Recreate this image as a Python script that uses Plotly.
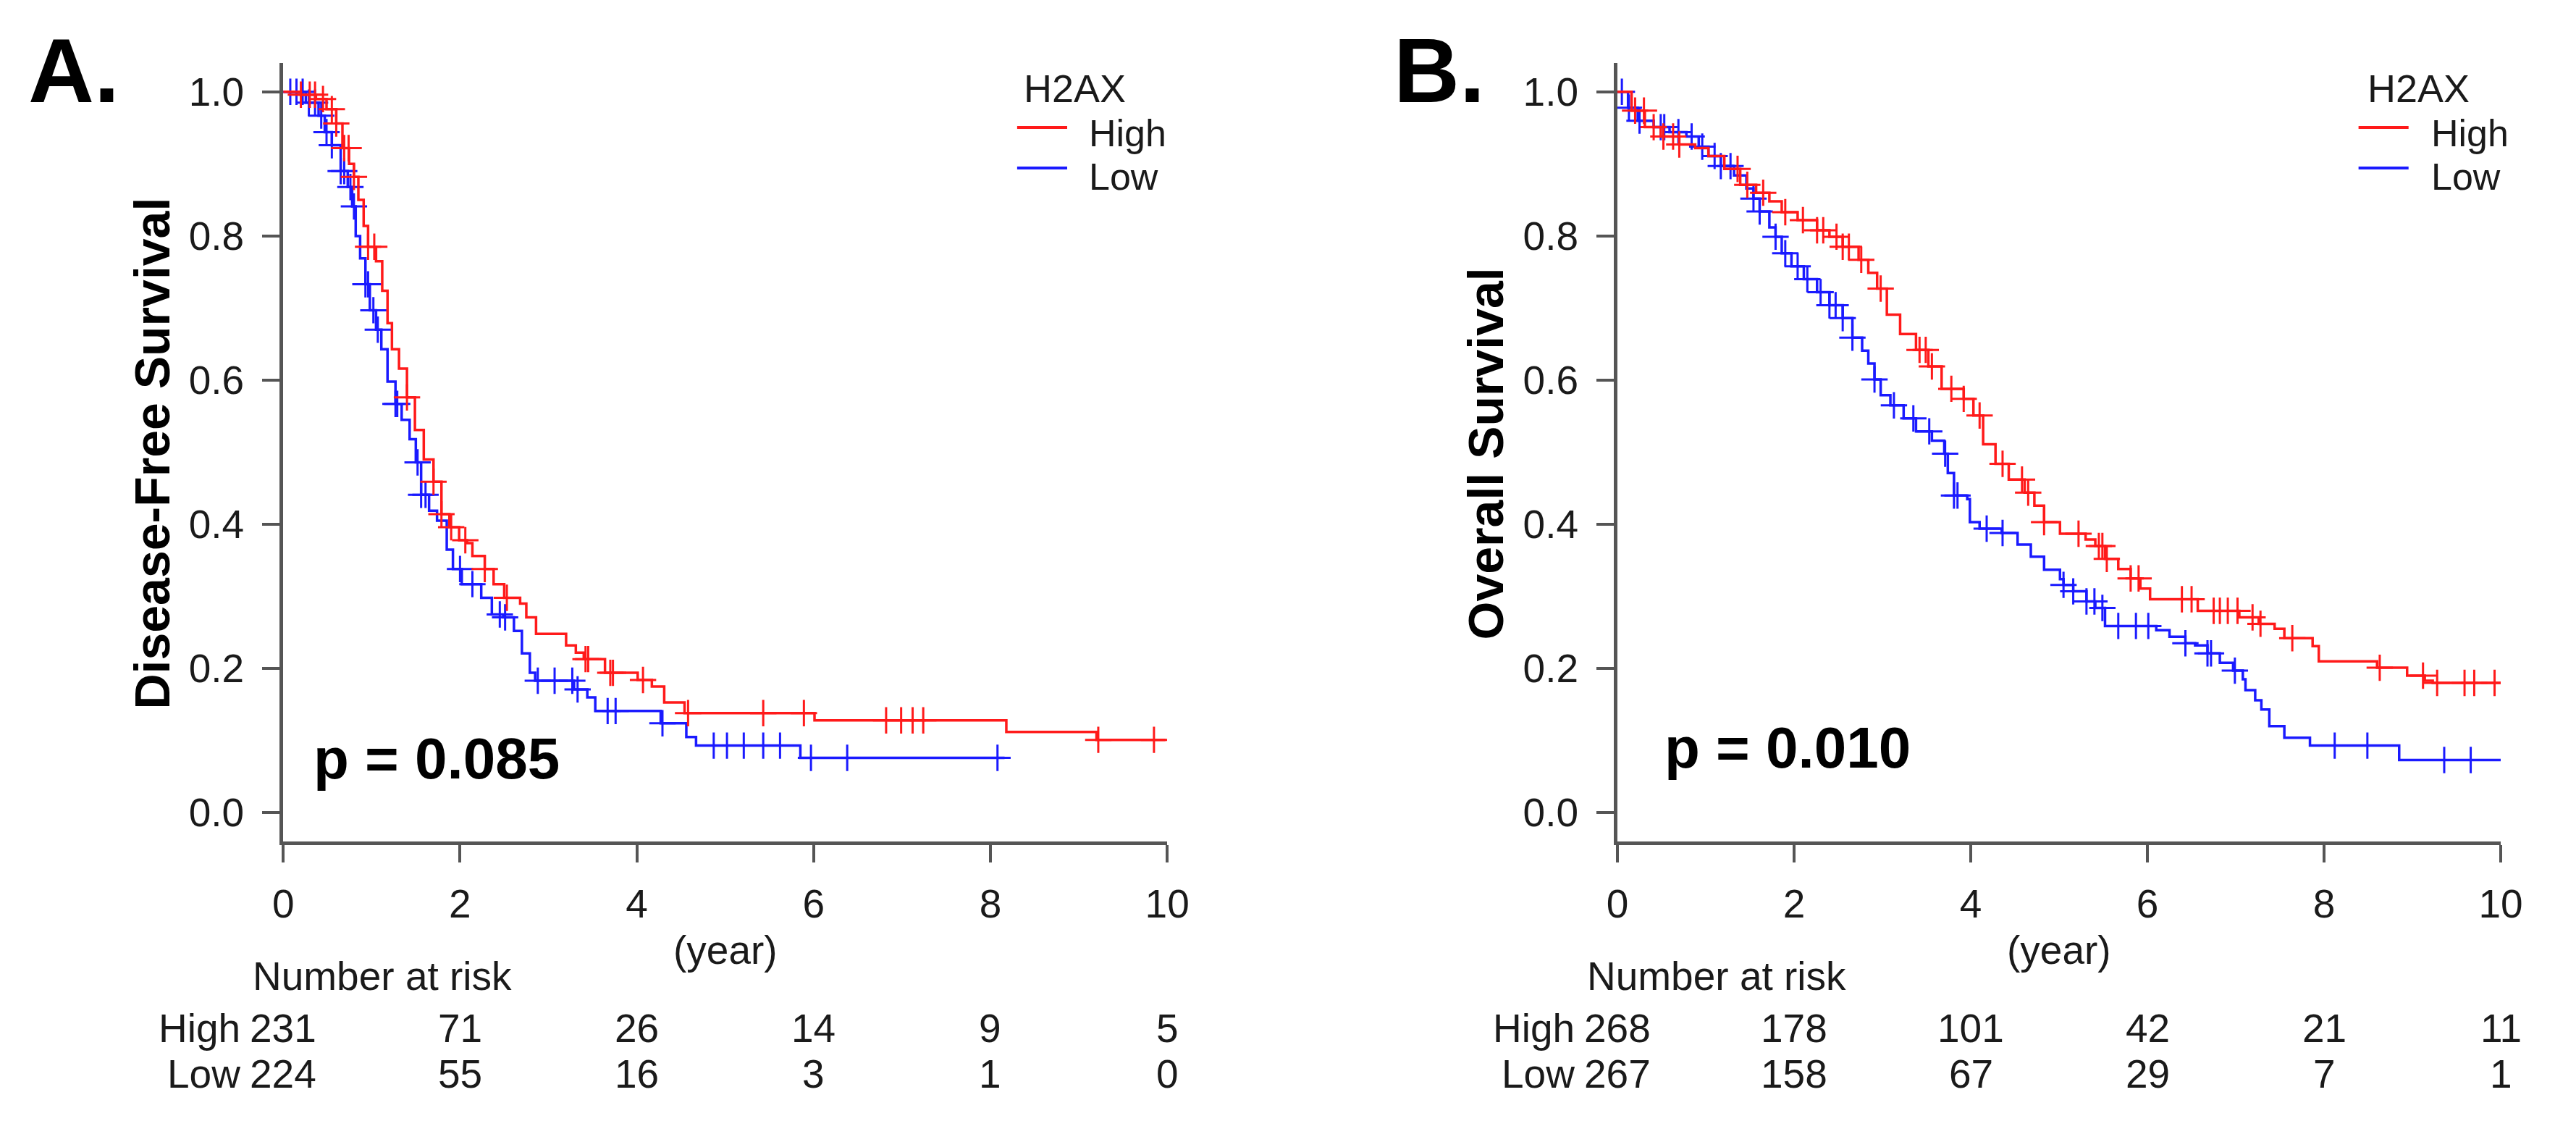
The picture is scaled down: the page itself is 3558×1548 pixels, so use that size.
import numpy as np
import plotly.graph_objects as go

# ---- Panel A: Disease-free survival (Kaplan-Meier) ----
a_high_t = [0, 0.20, 0.37, 0.49, 0.60, 0.67, 0.745, 0.80, 0.85, 0.91, 0.96, 1.05, 1.12, 1.18,
            1.23, 1.31, 1.40, 1.49, 1.59, 1.70, 1.79, 1.88, 1.99, 2.08, 2.14, 2.28, 2.38, 2.50,
            2.68, 2.75, 2.86, 3.20, 3.31, 3.40, 3.64, 4.01, 4.17, 4.31, 4.54, 6.01, 8.18, 9.20, 9.98]
a_high_s = [1.0, 0.996, 0.99, 0.976, 0.956, 0.922, 0.90, 0.882, 0.85, 0.814, 0.785, 0.765, 0.724, 0.679,
            0.643, 0.616, 0.576, 0.531, 0.49, 0.459, 0.414, 0.396, 0.378, 0.374, 0.356, 0.338, 0.317, 0.298,
            0.290, 0.271, 0.248, 0.232, 0.222, 0.213, 0.194, 0.184, 0.175, 0.153, 0.138, 0.128, 0.112, 0.101, 0.101]
a_high_cens = [0.2, 0.3, 0.36, 0.45, 0.55, 0.6, 0.69, 0.74, 0.8, 0.96, 1.03, 1.40, 1.70, 1.79, 1.90,
               2.06, 2.28, 2.53, 3.42, 3.45, 3.70, 3.73, 4.07, 4.58, 5.43, 5.89, 6.82, 6.99, 7.12,
               7.24, 9.22, 9.85]

a_low_t = [0, 0.256, 0.40, 0.47, 0.55, 0.65, 0.73, 0.78, 0.82, 0.87, 0.93, 0.98, 1.05, 1.11, 1.18,
           1.27, 1.34, 1.43, 1.50, 1.56, 1.65, 1.74, 1.85, 1.92, 2.02, 2.24, 2.36, 2.49, 2.61, 2.70,
           2.79, 2.85, 3.29, 3.44, 3.53, 4.27, 4.56, 4.67, 5.85, 8.16]
a_low_s = [1.0, 0.985, 0.967, 0.944, 0.926, 0.890, 0.868, 0.841, 0.800, 0.769, 0.733, 0.697, 0.670,
           0.643, 0.598, 0.567, 0.545, 0.518, 0.486, 0.441, 0.419, 0.405, 0.365, 0.338, 0.317, 0.298,
           0.275, 0.271, 0.252, 0.221, 0.194, 0.183, 0.171, 0.160, 0.141, 0.124, 0.105, 0.093, 0.076, 0.076]
a_low_cens = [0.08, 0.15, 0.22, 0.29, 0.36, 0.43, 0.49, 0.55, 0.65, 0.69, 0.76, 0.8, 0.93, 0.96,
              1.02, 1.07, 1.27, 1.29, 1.52, 1.56, 1.61, 2.0, 2.14, 2.45, 2.51, 2.88, 3.07, 3.27,
              3.33, 3.67, 3.76, 4.29, 4.87, 5.02, 5.21, 5.43, 5.62, 5.97, 6.38, 8.08]

# ---- Panel B: Overall survival ----
b_high_t = [0, 0.16, 0.31, 0.49, 0.70, 0.88, 1.03, 1.21, 1.39, 1.57, 1.72, 1.86, 2.04, 2.26, 2.40,
            2.55, 2.73, 2.84, 2.94, 3.05, 3.20, 3.38, 3.52, 3.67, 3.92, 4.03, 4.14, 4.28, 4.43, 4.61,
            4.72, 4.83, 5.01, 5.30, 5.41, 5.52, 5.67, 5.81, 5.92, 6.03, 6.57, 7.04, 7.26, 7.44, 7.55,
            7.87, 7.94, 8.60, 8.94, 9.14, 9.23, 10.0]
b_high_s = [1.0, 0.974, 0.951, 0.938, 0.927, 0.922, 0.911, 0.893, 0.871, 0.860, 0.848, 0.833, 0.822,
            0.808, 0.799, 0.785, 0.767, 0.749, 0.727, 0.691, 0.664, 0.642, 0.619, 0.588, 0.574, 0.551,
            0.511, 0.484, 0.462, 0.444, 0.426, 0.403, 0.387, 0.379, 0.370, 0.352, 0.338, 0.325, 0.311,
            0.296, 0.280, 0.271, 0.262, 0.255, 0.242, 0.231, 0.210, 0.201, 0.190, 0.183, 0.180, 0.180]
b_high_cens = [0.2, 0.3, 0.41, 0.52, 0.63, 0.7, 1.36, 1.47, 1.65, 1.9, 2.1, 2.26, 2.33, 2.48, 2.55,
               2.62, 2.76, 2.98, 3.42, 3.49, 3.56, 3.78, 3.92, 4.10, 4.36, 4.58, 4.65, 4.83, 5.22,
               5.45, 5.49, 5.54, 5.81, 5.90, 6.39, 6.50, 6.75, 6.82, 6.91, 7.02, 7.19, 7.28, 7.64,
               8.63, 9.12, 9.28, 9.59, 9.70, 9.93]

b_low_t = [0, 0.12, 0.23, 0.41, 0.59, 0.78, 0.92, 1.03, 1.17, 1.32, 1.46, 1.54, 1.61, 1.72, 1.79,
           1.86, 1.97, 2.11, 2.26, 2.40, 2.55, 2.66, 2.77, 2.84, 2.91, 2.98, 3.09, 3.24, 3.38, 3.56,
           3.70, 3.74, 3.81, 3.96, 3.99, 4.10, 4.35, 4.53, 4.68, 4.83, 5.01, 5.05, 5.16, 5.31, 5.41,
           5.52, 6.10, 6.25, 6.43, 6.54, 6.68, 6.82, 6.97, 7.08, 7.11, 7.22, 7.29, 7.38, 7.55, 7.84,
           8.85, 10.0]
b_low_s = [1.0, 0.978, 0.960, 0.951, 0.944, 0.938, 0.924, 0.911, 0.897, 0.884, 0.866, 0.852, 0.834,
           0.812, 0.799, 0.776, 0.758, 0.740, 0.722, 0.704, 0.686, 0.659, 0.641, 0.623, 0.601, 0.579,
           0.565, 0.547, 0.529, 0.516, 0.498, 0.471, 0.440, 0.435, 0.403, 0.394, 0.388, 0.372, 0.355,
           0.337, 0.324, 0.316, 0.307, 0.293, 0.284, 0.259, 0.253, 0.244, 0.235, 0.232, 0.221, 0.208,
           0.197, 0.185, 0.170, 0.156, 0.143, 0.120, 0.104, 0.093, 0.073, 0.073]
b_low_cens = [0.05, 0.13, 0.25, 0.49, 0.53, 0.69, 0.84, 0.96, 1.1, 1.17, 1.28, 1.54, 1.61, 1.79,
              1.90, 2.04, 2.15, 2.3, 2.40, 2.47, 2.55, 2.66, 2.91, 3.13, 3.35, 3.53, 3.71, 3.81,
              3.85, 4.18, 4.36, 5.05, 5.16, 5.31, 5.40, 5.49, 5.67, 5.87, 6.01, 6.43, 6.68, 6.72,
              6.99, 8.12, 8.49, 9.36, 9.66]

# number at risk tables
risk_times = [0, 2, 4, 6, 8, 10]
a_risk_high = [231, 71, 26, 14, 9, 5]
a_risk_low = [224, 55, 16, 3, 1, 0]
b_risk_high = [268, 178, 101, 42, 21, 11]
b_risk_low = [267, 158, 67, 29, 7, 1]

y_titles = ["Disease-Free Survival", "Overall Survival"]
p_values = ["p = 0.085", "p = 0.010"]
panel_tags = ["A.", "B."]

RED = "#ff1a1a"
BLUE = "#1a1aff"
FONT = "Liberation Sans, Arial, sans-serif"
TXT = "#1a1a1a"
W, H = 3558, 1548


def surv_at(t, s, c):
    idx = np.searchsorted(np.array(t), np.array(c), side="right") - 1
    return np.array(s)[idx]


fig = go.Figure()

panels = [
    ("x", "y", a_high_t, a_high_s, a_high_cens, a_low_t, a_low_s, a_low_cens),
    ("x2", "y2", b_high_t, b_high_s, b_high_cens, b_low_t, b_low_s, b_low_cens),
]
for xa, ya, ht, hs, hc, lt, ls, lc in panels:
    for t, s, c, col in [(lt, ls, lc, BLUE), (ht, hs, hc, RED)]:
        fig.add_trace(go.Scatter(x=t, y=s, mode="lines", line=dict(color=col, width=3.5, shape="hv"),
                                 xaxis=xa, yaxis=ya, showlegend=False, hoverinfo="skip"))
        fig.add_trace(go.Scatter(x=c, y=surv_at(t, s, c), mode="markers",
                                 marker=dict(symbol="cross-thin", size=26, line=dict(color=col, width=3)),
                                 xaxis=xa, yaxis=ya, showlegend=False, hoverinfo="skip"))

# pixel geometry of the two plot areas
x_pix = [(373, 1610), (2240, 3476)]
y_bot, y_top = 1154, 79
ydom = [(H - y_bot) / H, (H - y_top) / H]

axis_common = dict(showline=True, linecolor="#555555", linewidth=5, ticks="outside", ticklen=24,
                   tickwidth=4, tickcolor="#555555", showgrid=False, zeroline=False,
                   tickfont=dict(family=FONT, size=55, color=TXT))

layout = dict(width=W, height=H, margin=dict(l=0, r=0, t=0, b=0), plot_bgcolor="white",
              paper_bgcolor="white", showlegend=False)
for i, (x0, x1) in enumerate(x_pix):
    sfx = "" if i == 0 else str(i + 1)
    layout["xaxis" + sfx] = dict(domain=[x0 / W, x1 / W], range=[0, 10], tickvals=risk_times,
                                 anchor="y" + sfx, ticklabelstandoff=10, **axis_common)
    layout["yaxis" + sfx] = dict(domain=ydom, range=[-0.04, 1.04], tickvals=[0, 0.2, 0.4, 0.6, 0.8, 1.0],
                                 ticktext=["0.0", "0.2", "0.4", "0.6", "0.8", "1.0"],
                                 anchor="x" + sfx, ticklabelstandoff=14, **axis_common)
fig.update_layout(**layout)


def px_x(i, yr):
    # paper x of a time value on panel i (for text placed left of the axis)
    x0, x1 = x_pix[i]
    return (x0 + (x1 - x0) * yr / 10) / W


ann = []
shapes = []
risk_rows = [(a_risk_high, a_risk_low), (b_risk_high, b_risk_low)]
legend_x = [(1400, 1407, 1498), (3277, 3287, 3377)]
p_pos = [(0.33, 0.075), (0.52, 0.09)]
tag_x = [14, 1925]
for i, (x0, x1) in enumerate(x_pix):
    xr = "x" if i == 0 else "x2"
    # panel tag
    ann.append(dict(text="<b>%s</b>" % panel_tags[i], x=tag_x[i] / W, y=(H - 89) / H, xref="paper", yref="paper",
                    xanchor="left", yanchor="middle", showarrow=False,
                    font=dict(family=FONT, size=126, color="black")))
    # y title
    ann.append(dict(text="<b>%s</b>" % y_titles[i], x=(x0 - 184) / W, y=(H - 618) / H, xref="paper",
                    yref="paper", textangle=-90, xanchor="center", yanchor="middle", showarrow=False,
                    font=dict(family=FONT, size=68, color="black")))
    # p value
    ann.append(dict(text="<b>%s</b>" % p_values[i], x=p_pos[i][0], y=p_pos[i][1], xref=xr,
                    yref="y" if i == 0 else "y2", xanchor="left", yanchor="middle", showarrow=False,
                    font=dict(family=FONT, size=80, color="black")))
    # x title
    ann.append(dict(text="(year)", x=5, y=(H - 1304) / H, xref=xr, yref="paper", xanchor="center",
                    yanchor="middle", showarrow=False, font=dict(family=FONT, size=55, color=TXT)))
    # number at risk
    ann.append(dict(text="Number at risk", x=px_x(i, -0.36), y=(H - 1340) / H, xref="paper", yref="paper",
                    xanchor="left", yanchor="middle", showarrow=False,
                    font=dict(family=FONT, size=55, color=TXT)))
    for lab, row, ypix in [("High", risk_rows[i][0], 1412), ("Low", risk_rows[i][1], 1475)]:
        ann.append(dict(text=lab, x=px_x(i, -0.47), y=(H - ypix) / H, xref="paper", yref="paper",
                        xanchor="right", yanchor="middle", showarrow=False,
                        font=dict(family=FONT, size=55, color=TXT)))
        for t, n in zip(risk_times, row):
            ann.append(dict(text=str(n), x=t, y=(H - ypix) / H, xref=xr, yref="paper", xanchor="center",
                            yanchor="middle", showarrow=False, font=dict(family=FONT, size=55, color=TXT)))
    # legend
    lx0, tx0, lab_x = legend_x[i]
    ann.append(dict(text="H2AX", x=tx0 / W, y=(H - 114) / H, xref="paper", yref="paper", xanchor="left",
                    yanchor="middle", showarrow=False, font=dict(family=FONT, size=54, color=TXT)))
    for lab, col, ly, ty in [("High", RED, 168, 176), ("Low", BLUE, 224, 236)]:
        shapes.append(dict(type="line", xref="paper", yref="paper", x0=lx0 / W, x1=(lx0 + 70) / W,
                           y0=(H - ly) / H, y1=(H - ly) / H, line=dict(color=col, width=4)))
        ann.append(dict(text=lab, x=lab_x / W, y=(H - ty) / H, xref="paper", yref="paper", xanchor="left",
                        yanchor="middle", showarrow=False, font=dict(family=FONT, size=52, color=TXT)))

fig.update_layout(annotations=ann, shapes=shapes)
fig.write_html("out.html")
